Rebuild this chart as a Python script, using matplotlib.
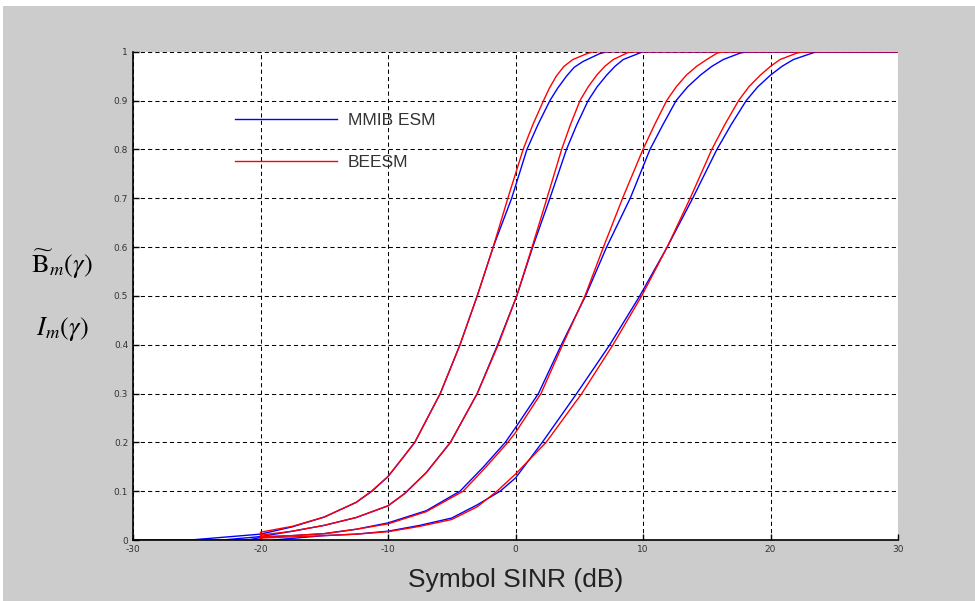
import numpy as np
import matplotlib
matplotlib.use("Agg")
from matplotlib import pyplot as plt
from matplotlib.patches import Rectangle

plt.rcParams['mathtext.fontset'] = 'stix'

# MMIB ESM (blue) curves
b1_x = [-25.5, -20, -17.5, -15, -12.5, -11.25, -10, -9, -7.9, -5.9, -4.35, -3.0, -1.75, -0.3, 0.9, 1.75, 2.7, 3.3, 4.0, 4.6, 5.3, 6.6, 7.2, 30]
b1_y = [0, 0.012, 0.027, 0.047, 0.077, 0.1, 0.13, 0.163, 0.2, 0.3, 0.4, 0.5, 0.6, 0.7, 0.8, 0.85, 0.9, 0.925, 0.95, 0.968, 0.98, 0.996, 1, 1]
b2_x = [-23, -20, -17.5, -15, -12.5, -10, -8.7, -7, -5.1, -3.0, -1.4, 0.1, 1.35, 2.7, 4.0, 4.8, 5.7, 6.4, 7.15, 7.8, 8.45, 10.0, 30]
b2_y = [0, 0.007, 0.018, 0.03, 0.046, 0.07, 0.095, 0.138, 0.2, 0.3, 0.4, 0.5, 0.6, 0.7, 0.8, 0.85, 0.9, 0.928, 0.952, 0.97, 0.984, 1, 1]
b3_x = [-21, -20, -17.5, -15, -12.5, -10, -7, -4.35, -2.5, -0.8, 0, 1.8, 3.6, 5.5, 7.15, 9.0, 10.55, 11.55, 12.6, 13.5, 14.5, 15.4, 16.3, 17.6, 18.2, 30]
b3_y = [0, 0.005, 0.009, 0.013, 0.022, 0.035, 0.06, 0.1, 0.15, 0.2, 0.23, 0.3, 0.4, 0.5, 0.6, 0.7, 0.8, 0.85, 0.9, 0.928, 0.952, 0.97, 0.984, 0.997, 1, 1]
b4_x = [-19, -15, -12.5, -10, -7.5, -5, -3, -1.2, 0, 2.1, 4.8, 7.4, 9.75, 11.9, 13.9, 15.8, 16.9, 18.1, 19.0, 20.0, 20.9, 21.8, 23.6, 30]
b4_y = [0, 0.009, 0.012, 0.018, 0.03, 0.045, 0.072, 0.1, 0.127, 0.2, 0.3, 0.4, 0.5, 0.6, 0.7, 0.8, 0.85, 0.9, 0.928, 0.952, 0.97, 0.984, 1, 1]

# BEESM (red) curves
r1_x = [-30, -20, -20, -17.5, -15, -12.5, -11.3, -10, -9, -7.9, -5.9, -4.35, -3.0, -1.75, -0.6, 0.6, 1.35, 2.2, 2.65, 3.2, 3.8, 4.5, 5.6, 6.1, 30]
r1_y = [0, 0, 0.016, 0.028, 0.047, 0.077, 0.1, 0.13, 0.163, 0.2, 0.3, 0.4, 0.5, 0.6, 0.7, 0.8, 0.85, 0.9, 0.925, 0.95, 0.97, 0.984, 0.996, 1, 1]
r2_x = [-30, -20, -20, -17.5, -15, -12.5, -10, -8.7, -7, -5.1, -3.0, -1.35, 0.1, 1.3, 2.47, 3.62, 4.3, 5.06, 5.7, 6.37, 7.0, 7.67, 8.72, 9.0, 30]
r2_y = [0, 0, 0.01, 0.018, 0.03, 0.046, 0.07, 0.095, 0.138, 0.2, 0.3, 0.4, 0.5, 0.6, 0.7, 0.8, 0.85, 0.9, 0.928, 0.952, 0.97, 0.984, 0.997, 1, 1]
r3_x = [-30, -20, -20, -17.5, -15, -12.5, -10, -7, -4.1, -2.3, -0.6, 0, 2.0, 3.7, 5.45, 6.9, 8.4, 10.0, 10.9, 11.86, 12.6, 13.4, 14.2, 15.0, 15.8, 16.3, 30]
r3_y = [0, 0, 0.007, 0.009, 0.013, 0.022, 0.033, 0.058, 0.1, 0.15, 0.2, 0.22, 0.3, 0.4, 0.5, 0.6, 0.7, 0.8, 0.85, 0.9, 0.928, 0.952, 0.97, 0.984, 0.997, 1, 1]
r4_x = [-30, -20, -20, -15, -12.5, -10, -7.5, -5, -3, -1.45, 0, 2.4, 5.2, 7.65, 9.9, 11.9, 13.7, 15.4, 16.4, 17.5, 18.3, 19.2, 20.0, 20.75, 22.05, 22.6, 30]
r4_y = [0, 0, 0.004, 0.009, 0.012, 0.017, 0.028, 0.042, 0.068, 0.1, 0.135, 0.2, 0.3, 0.4, 0.5, 0.6, 0.7, 0.8, 0.85, 0.9, 0.928, 0.952, 0.97, 0.984, 0.997, 1, 1]

xticks = [-30, -20, -10, 0, 10, 20, 30]
yticks = [0, 0.1, 0.2, 0.3, 0.4, 0.5, 0.6, 0.7, 0.8, 0.9, 1]
ytick_labels = ['0', '0.1', '0.2', '0.3', '0.4', '0.5', '0.6', '0.7', '0.8', '0.9', '1']

fig = plt.figure(figsize=(9.75, 6.01), dpi=100, facecolor='white')
fig.patches.append(Rectangle((3 / 975, 0), 1, 1 - 6 / 601, transform=fig.transFigure,
                             facecolor='#cccccc', edgecolor='none', zorder=-10))

ax = fig.add_axes([133 / 975, 1 - 540 / 601, 765 / 975, 488.3 / 601])
ax.set_facecolor('white')

blues = [(b1_x, b1_y), (b2_x, b2_y), (b3_x, b3_y), (b4_x, b4_y)]
reds = [(r1_x, r1_y), (r2_x, r2_y), (r3_x, r3_y), (r4_x, r4_y)]
for i, ((bx, by), (rx, ry)) in enumerate(zip(blues, reds)):
    ax.plot(bx, by, color='#0000ff', lw=1.0, label='MMIB ESM' if i == 0 else None)
    ax.plot(rx, ry, color='#ff0000', lw=1.0, label='BEESM' if i == 0 else None)

ax.set_xlim(-30, 30)
ax.set_ylim(0, 1)
ax.set_xticks(xticks)
ax.set_xticklabels([str(t) for t in xticks])
ax.set_yticks(yticks)
ax.set_yticklabels(ytick_labels)
ax.tick_params(direction='in', length=4, width=1, colors='black', labelcolor='#333333',
               labelsize=6.5, pad=3.5)
ax.grid(True, color='black', linestyle=(0, (4, 3)), linewidth=0.75)
ax.set_axisbelow(True)
for s in ['top', 'right']:
    ax.spines[s].set_visible(False)
for s in ['left', 'bottom']:
    ax.spines[s].set_linewidth(1.2)

leg = ax.legend(loc='upper left', bbox_to_anchor=(0.1333, 0.875), frameon=False,
                borderpad=0, borderaxespad=0, handlelength=5.9, handletextpad=0.6,
                labelspacing=1.57, prop={'family': 'Liberation Sans', 'size': 12.5})
for t in leg.get_texts():
    t.set_color('#333333')

fig.text(62 / 975, 1 - 264 / 601, r'$\widetilde{\mathrm{B}}_m(\gamma)$', ha='center', va='center',
         fontsize=19)
fig.text(62 / 975, 1 - 329 / 601, r'$I_m(\gamma)$', ha='center', va='center', fontsize=19)
fig.text(515.5 / 975, 1 - 580 / 601, 'Symbol SINR (dB)', ha='center', va='center',
         fontsize=19, family='Liberation Sans', color='#222222')

fig.savefig('out.png', dpi=100, facecolor=fig.get_facecolor())
